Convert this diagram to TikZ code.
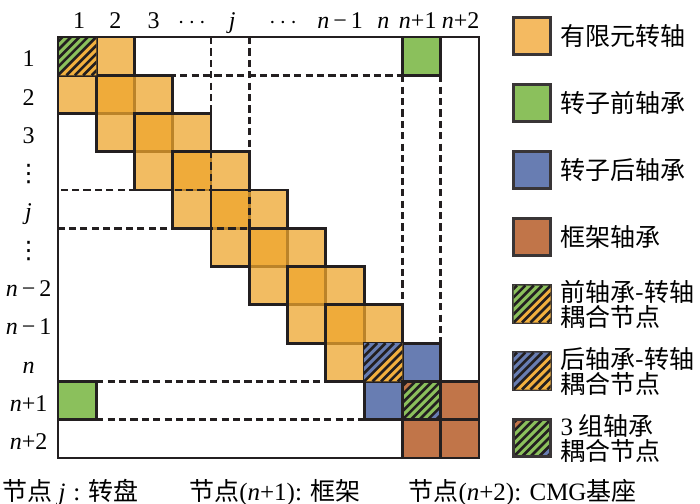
\documentclass[tikz,border=0pt]{standalone}
\usepackage{fontspec}
\setmainfont{Liberation Serif}
\newfontfamily\cjk{Noto Sans CJK SC}
\newfontfamily\symb{DejaVu Sans}
\usetikzlibrary{positioning,calc}

\definecolor{shaft}{RGB}{238,165,45}
\definecolor{shaftkey}{RGB}{244,186,97}
\definecolor{shaftdeep}{RGB}{242,176,62}
\definecolor{front}{RGB}{139,192,92}
\definecolor{rear}{RGB}{104,125,178}
\definecolor{gimbal}{RGB}{193,117,73}
\definecolor{ink}{RGB}{35,31,32}

\newlength\cellw
\setlength\cellw{19.135pt}

\tikzset{
  hatchtwo/.style 2 args={postaction={path picture={
      \fill[#1] (path picture bounding box.north west) -- (path picture bounding box.north east)
        -- (path picture bounding box.south west) -- cycle;
      \fill[#2] (path picture bounding box.north east) -- (path picture bounding box.south east)
        -- (path picture bounding box.south west) -- cycle;
      \foreach \off in {-0.88,-0.66,-0.44,-0.22,0,0.22,0.44,0.66,0.88}
        \draw[ink, line width=1.3pt]
          ($(path picture bounding box.south west)+(\off,0)$) --
          ($(path picture bounding box.north east)+(\off,0)$);
  }}},
  hatchthree/.style={fill=front, path picture={
      \fill[gimbal] (path picture bounding box.north west) -- ($(path picture bounding box.north west)+(0.34,0)$)
        -- ($(path picture bounding box.north west)+(0,0.34)$) -- cycle;
      \fill[rear] (path picture bounding box.south east) -- ($(path picture bounding box.south east)+(-0.34,0)$)
        -- ($(path picture bounding box.south east)+(0,-0.34)$) -- cycle;
      \foreach \off in {-0.88,-0.66,-0.44,-0.22,0,0.22,0.44,0.66,0.88}
        \draw[ink, line width=1.3pt]
          ($(path picture bounding box.south west)+(\off,0)$) --
          ($(path picture bounding box.north east)+(\off,0)$);
  }},
}

\begin{document}
\begin{tikzpicture}[x=\cellw, y=-\cellw,
    blockline/.style = {draw=ink, line width=1.4pt},
    cut/.style       = {ink, line width=1.3pt, dash pattern=on 3.6pt off 2.1pt},
    cell/.style      = {draw=ink, line width=1.4pt, minimum size=\cellw, inner sep=0pt, outer sep=0pt},
    key/.style       = {draw=ink!90, line width=1.5pt, minimum size=18.5pt, inner sep=0pt},
    keytext/.style   = {right=4pt of #1, align=left, inner sep=0pt, font=\fontsize{12.5}{12.5}\selectfont\cjk},
    lbl/.style       = {anchor=base, inner sep=0pt, font=\fontsize{12}{13}\selectfont},
    foot/.style      = {anchor=base west, inner sep=0pt, font=\fontsize{12.5}{13}\selectfont}
  ]
  \useasboundingbox (-1.516,-0.967) rectangle (16.776,12.203);

  % --- shaft element blocks (2x2, overlapping)
  \foreach \k in {1,...,8} {
    \fill[shaft, fill opacity=0.75] (\k-1,\k-1) rectangle ++(2,2);
    \draw[blockline] (\k-1,\k-1) rectangle ++(2,2);
  }

  % --- dashed guides for node j, node 1 and node n+1
  \draw[cut] (4,0) -- (4,4) -- (0,4);
  \draw[cut] (5,0) -- (5,5) -- (0,5);
  \draw[cut] (2,1) -- (9,1);
  \draw[cut] (9,1) -- (9,7);
  \draw[cut] (10,1) -- (10,8);
  \draw[cut] (1,9) -- (7,9);
  \draw[cut] (1,10) -- (8,10);

  % --- bearing cells
  \node[cell, fill=front]  (fr1) at (9.5,0.5)   {};
  \node[cell, fill=front]  (fr2) at (0.5,9.5)   {};
  \node[cell, fill=rear]   (re1) at (9.5,8.5)   {};
  \node[cell, fill=rear]   (re2) at (8.5,9.5)   {};
  \node[cell, fill=gimbal] (gb1) at (10.5,9.5)  {};
  \node[cell, fill=gimbal] (gb2) at (9.5,10.5)  {};
  \node[cell, fill=gimbal] (gb3) at (10.5,10.5) {};
  \node[cell, hatchtwo={front}{shaftdeep}] (hx1) at (0.5,0.5) {};
  \node[cell, hatchtwo={rear}{shaftdeep}]  (hx2) at (8.5,8.5) {};
  \node[cell, hatchthree]                  (hx3) at (9.5,9.5) {};

  \draw[blockline] (0,0) rectangle (11,11);

  % --- node numbers
  \foreach \x/\t [count=\i] in {0.55/1, 1.5/2, 2.5/3, 3.5/{$\cdots$}, 4.55/\textit{j}, 5.88/{$\cdots$},
      7.37/{\textit{n}\kern2pt−\kern2pt1}, 8.5/\textit{n}, 9.4/{\textit{n}+1}, 10.52/{\textit{n}+2}}
    \node[lbl] (top\i) at (\x,-0.235) {\t};
  \foreach \t [count=\r] in {1, 2, 3, {\symb ⋮}, \textit{j}, {\symb ⋮}, {\textit{n}\kern2pt−\kern2pt2},
      {\textit{n}\kern2pt−\kern2pt1}, \textit{n}, {\textit{n}+1}, {\textit{n}+2}}
    \node[lbl] (side\r) at (-0.77,\r-0.22) {\t};

  % --- legend
  \node[key, fill=shaftkey] (k1) at (12.39,-0.026) {};
  \node[key, fill=front,  below=13.5pt of k1] (k2) {};
  \node[key, fill=rear,   below=13.5pt of k2] (k3) {};
  \node[key, fill=gimbal, below=13.5pt of k3] (k4) {};
  \node[key, hatchtwo={front}{shaftdeep}, below=13.5pt of k4] (k5) {};
  \node[key, hatchtwo={rear}{shaftdeep},  below=13.5pt of k5] (k6) {};
  \node[key, hatchthree,                  below=13.5pt of k6] (k7) {};

  \node[keytext=k1] (t1) {有限元转轴};
  \node[keytext=k2] (t2) {转子前轴承};
  \node[keytext=k3] (t3) {转子后轴承};
  \node[keytext=k4] (t4) {框架轴承};
  \node[keytext=k5] (t5) {前轴承-转轴\\耦合节点};
  \node[keytext=k6] (t6) {后轴承-转轴\\耦合节点};
  \node[keytext=k7] (t7) {{\rmfamily 3} 组轴承\\耦合节点};

  % --- node meaning
  \node[foot] (cap1) at (-1.46,12.12) {{\cjk 节点}\kern3pt\textit{j}\kern4pt:\kern4pt{\cjk 转盘}};
  \node[foot] (cap2) at (3.42,12.12)  {{\cjk 节点}(\textit{n}+1): {\cjk 框架}};
  \node[foot] (cap3) at (9.15,12.12)  {{\cjk 节点}(\textit{n}+2): CMG{\cjk 基座}};
\end{tikzpicture}
\end{document}
